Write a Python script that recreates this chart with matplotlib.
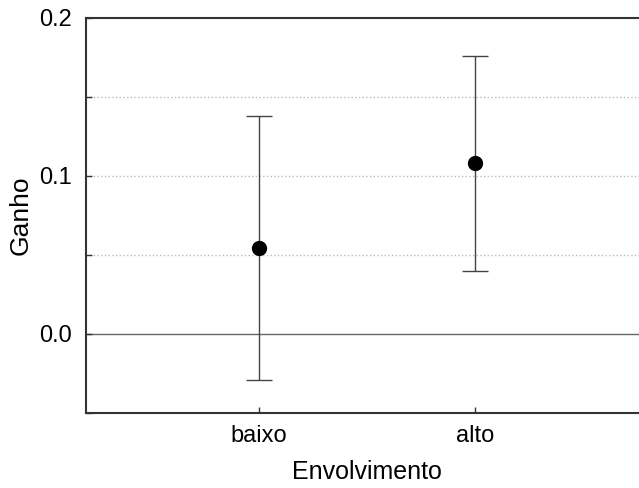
"""
Point estimates with confidence intervals for Ganho by Envolvimento level.
Saves out.png.
"""

import matplotlib.pyplot as plt
import numpy as np

plt.rcParams["font.family"] = ["Liberation Sans", "DejaVu Sans"]

CATEGORIES = ["baixo", "alto"]
MEANS = [0.0545, 0.108]
LOWER = [-0.029, 0.040]
UPPER = [0.138, 0.176]

Y_TICKS = [-0.05, 0.0, 0.05, 0.1, 0.15, 0.2]
Y_TICK_LABELS = ["", "0.0", "", "0.1", "", "0.2"]
GRID_LEVELS = [0.05, 0.1, 0.15]


def main():
    fig = plt.figure(figsize=(6.39, 4.88), dpi=100)
    # axes run a little past the right edge, as in the cropped original
    ax = fig.add_axes([86 / 639, 1 - 412.7 / 488, 561.6 / 639, (412.7 - 18) / 488])

    x = np.arange(1, len(CATEGORIES) + 1)
    means = np.array(MEANS)
    yerr = np.vstack([means - np.array(LOWER), np.array(UPPER) - means])

    for level in GRID_LEVELS:
        ax.axhline(level, color="#bbbbbb", linestyle=":", linewidth=1.0, zorder=0)
    ax.axhline(0.0, color="#666666", linewidth=1.0, zorder=0)

    ax.errorbar(
        x, means, yerr=yerr, fmt="none", ecolor="#444444",
        elinewidth=1.0, capsize=9.5, capthick=1.0, zorder=2,
    )
    ax.plot(x, means, "o", color="black", markersize=10, zorder=3)

    ax.set_xlim(0.2, 2.8)
    ax.set_ylim(-0.05, 0.2)
    ax.set_xticks(x, CATEGORIES)
    ax.set_yticks(Y_TICKS, Y_TICK_LABELS)

    ax.tick_params(direction="in", length=4, width=1, colors="#333333",
                   labelcolor="black", labelsize=17)
    ax.tick_params(axis="x", pad=8.5)
    ax.tick_params(axis="y", pad=10)

    for side in ["left", "bottom", "top"]:
        ax.spines[side].set_linewidth(1.5)
        ax.spines[side].set_color("#333333")
    ax.spines["right"].set_visible(False)

    ax.set_xlabel("Envolvimento", fontsize=18, labelpad=10)
    ax.set_ylabel("Ganho", fontsize=19, labelpad=5)

    fig.savefig("out.png", dpi=100)
    plt.close(fig)


if __name__ == "__main__":
    main()
